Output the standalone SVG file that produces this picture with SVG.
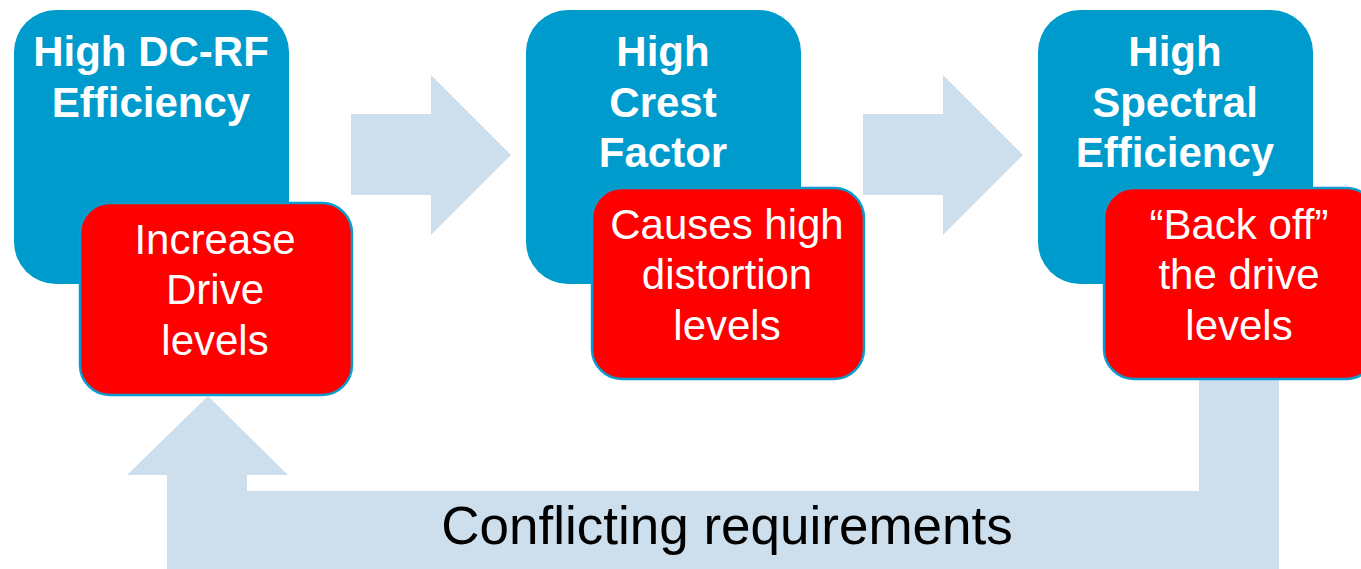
<svg xmlns="http://www.w3.org/2000/svg" width="1361" height="569" viewBox="0 0 1361 569">
<style>
.blue{fill:#009bcd;}
.red{fill:#ff0000;stroke:#0a9ccf;stroke-width:2.5;}
.conn{fill:#cddfed;}
.bt{font-family:"Liberation Sans",Arial,sans-serif;font-weight:bold;font-size:42px;fill:#fff;text-anchor:middle;}
.rt{font-family:"Liberation Sans",Arial,sans-serif;font-size:42px;fill:#fff;text-anchor:middle;}
.lbl{font-family:"Liberation Sans",Arial,sans-serif;font-size:53px;fill:#000;text-anchor:middle;}
</style>
<rect width="1361" height="569" fill="#fff"/>
<g id="connectors">
<polygon class="conn" points="351,114 431,114 431,75 511,155 431,235 431,195 351,195"/>
<polygon class="conn" points="863,114 943,114 943,75 1023,155 943,235 943,195 863,195"/>
<polygon class="conn" points="167,575 167,475 127,475 208,396 288,475 247,475 247,491 1199,491 1199,380 1279,380 1279,575"/>
<text class="lbl" x="727" y="544">Conflicting requirements</text>
</g>
<g id="node1">
<rect class="blue" x="14" y="10" width="275" height="274" rx="42"/>
<text class="bt" x="151" y="66">High DC-RF</text>
<text class="bt" x="151" y="117">Efficiency</text>
</g>
<g id="node1b">
<rect class="red" x="80" y="203" width="272" height="192" rx="30"/>
<text class="rt" x="215" y="254">Increase</text>
<text class="rt" x="215" y="304">Drive</text>
<text class="rt" x="215" y="355">levels</text>
</g>
<g id="node2">
<rect class="blue" x="526" y="10" width="275" height="274" rx="42"/>
<text class="bt" x="663" y="66">High</text>
<text class="bt" x="663" y="117">Crest</text>
<text class="bt" x="663" y="167">Factor</text>
</g>
<g id="node2b">
<rect class="red" x="592" y="188" width="272" height="191" rx="30"/>
<text class="rt" x="727" y="239">Causes high</text>
<text class="rt" x="727" y="289">distortion</text>
<text class="rt" x="727" y="340">levels</text>
</g>
<g id="node3">
<rect class="blue" x="1038" y="10" width="275" height="274" rx="42"/>
<text class="bt" x="1175" y="66">High</text>
<text class="bt" x="1175" y="117">Spectral</text>
<text class="bt" x="1175" y="167">Efficiency</text>
</g>
<g id="node3b">
<rect class="red" x="1104" y="188" width="272" height="191" rx="30"/>
<text class="rt" x="1239" y="239">“Back off”</text>
<text class="rt" x="1239" y="289">the drive</text>
<text class="rt" x="1239" y="340">levels</text>
</g>
</svg>
